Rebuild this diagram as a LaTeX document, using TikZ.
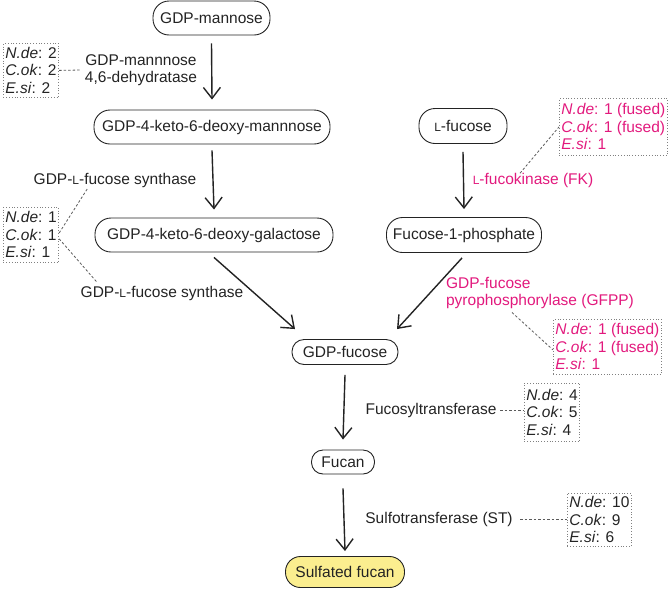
\documentclass[tikz,border=0pt]{standalone}
\usepackage{fontspec}
\setmainfont{Liberation Sans}
\usetikzlibrary{arrows.meta,calc}
\definecolor{mag}{RGB}{226,25,125}
\definecolor{fillY}{RGB}{251,238,143}
\definecolor{ln}{RGB}{35,35,35}
\newcommand{\Lsc}{{\fontsize{12}{12}\selectfont L}}
\begin{document}
\begin{tikzpicture}[x=1pt,y=-1pt,
  every node/.style={font=\fontsize{15.5}{17.5}\selectfont, text=ln},
  pill/.style={draw=ln, line width=0.9pt, inner sep=0pt, rounded corners=#1},
  arr/.style={draw=ln, line width=1.4pt, -{Straight Barb[length=11pt,width=17pt,line width=1.4pt]}},
  dbox/.style={draw=gray, dotted, line width=0.8pt, align=left, inner xsep=2pt, inner ysep=1pt, anchor=north west},
  conn/.style={draw=ln!75, dash pattern=on 2.5pt off 2pt, line width=0.8pt}]
\useasboundingbox (0,0) rectangle (671,592);

% pathway nodes
\node[pill=16pt, minimum width=117pt, minimum height=34pt] (m1) at (211.5,18) {GDP-mannose};
\node[pill=16pt, minimum width=236pt, minimum height=34pt] (m2) at (212,127) {GDP-4-keto-6-deoxy-mannnose};
\node[pill=16pt, minimum width=238pt, minimum height=34pt] (m3) at (214,235) {GDP-4-keto-6-deoxy-galactose};
\node[pill=16pt, minimum width=88pt, minimum height=35pt] (f1) at (463,126) {\Lsc-fucose};
\node[pill=16pt, minimum width=155pt, minimum height=35pt] (f2) at (464,235) {Fucose-1-phosphate};
\node[pill=12pt, minimum width=106pt, minimum height=25pt] (gf) at (345,352) {GDP-fucose};
\node[pill=11.5pt, minimum width=63pt, minimum height=24pt] (fu) at (343,462) {Fucan};
\node[pill=15pt, fill=fillY, minimum width=119pt, minimum height=31pt] (sf) at (345,572) {Sulfated fucan};

% arrows
\draw[arr] ([yshift=-8pt]m1.south) -- ([yshift=10pt]m2.north);
\draw[arr] ([yshift=-6pt]m2.south) -- ([yshift=8pt]m3.north);
\draw[arr] ([yshift=-8pt]f1.south) -- ([yshift=8pt]f2.north);
\draw[arr] ([yshift=-5pt]m3.south) -- ([xshift=-50pt,yshift=10pt]gf.north);
\draw[arr] ([xshift=-2pt,yshift=-5pt]f2.south) -- ([xshift=52pt,yshift=10pt]gf.north);
\draw[arr] ([yshift=-10pt]gf.south) -- ([yshift=10pt]fu.north);
\draw[arr] ([yshift=-14pt]fu.south) -- ([yshift=5pt]sf.north);

% enzyme labels
\node[align=center] (l1) at (141,70) {GDP-mannnose\\4,6-dehydratase};
\node (l2) at (115,180) {GDP-\Lsc-fucose synthase};
\node (l3) at (162,293) {GDP-\Lsc-fucose synthase};
\node[text=mag] (lfk) at (533,180) {\Lsc-fucokinase (FK)};
\node[text=mag, align=left] (lgf) at (540,293) {GDP-fucose\\pyrophosphorylase (GFPP)};
\node (lft) at (431,410) {Fucosyltransferase};
\node (lst) at (439,519) {Sulfotransferase (ST)};

% count boxes
\node[dbox, minimum height=54pt] (b1) at (3,43)
  {\textit{N.de}: 2\\\textit{C.ok}: 2\\\textit{E.si}: 2};
\node[dbox, minimum height=55pt] (b2) at (3,207)
  {\textit{N.de}: 1\\\textit{C.ok}: 1\\\textit{E.si}: 1};
\node[dbox, text=mag, minimum height=57pt] (b3) at (559,98)
  {\textit{N.de}: 1 (fused)\\\textit{C.ok}: 1 (fused)\\\textit{E.si}: 1};
\node[dbox, text=mag, minimum height=55pt] (b4) at (553,319)
  {\textit{N.de}: 1 (fused)\\\textit{C.ok}: 1 (fused)\\\textit{E.si}: 1};
\node[dbox, minimum height=58pt] (b5) at (524,383)
  {\textit{N.de}: 4\\\textit{C.ok}: 5\\\textit{E.si}: 4};
\node[dbox, minimum height=53pt] (b6) at (567,493)
  {\textit{N.de}: 10\\\textit{C.ok}: 9\\\textit{E.si}: 6};

% dashed connectors
\draw[conn] (b1.east) -- (l1.west);
\draw[conn] ([yshift=2pt]b2.east) -- ([xshift=-27pt,yshift=3pt]l2.south);
\draw[conn] ([yshift=-4pt]b2.east) -- ([xshift=-65pt]l3.north);
\draw[conn] ([xshift=-13pt,yshift=-4pt]lfk.north) -- (b3.west);
\draw[conn] ([xshift=-28pt]lgf.south) -- ([yshift=-3pt]b4.west);
\draw[conn] (lft.east) -- (lft.east -| b5.west);
\draw[conn] ([xshift=4pt]lst.east) -- (lst.east -| b6.west);
\end{tikzpicture}
\end{document}
